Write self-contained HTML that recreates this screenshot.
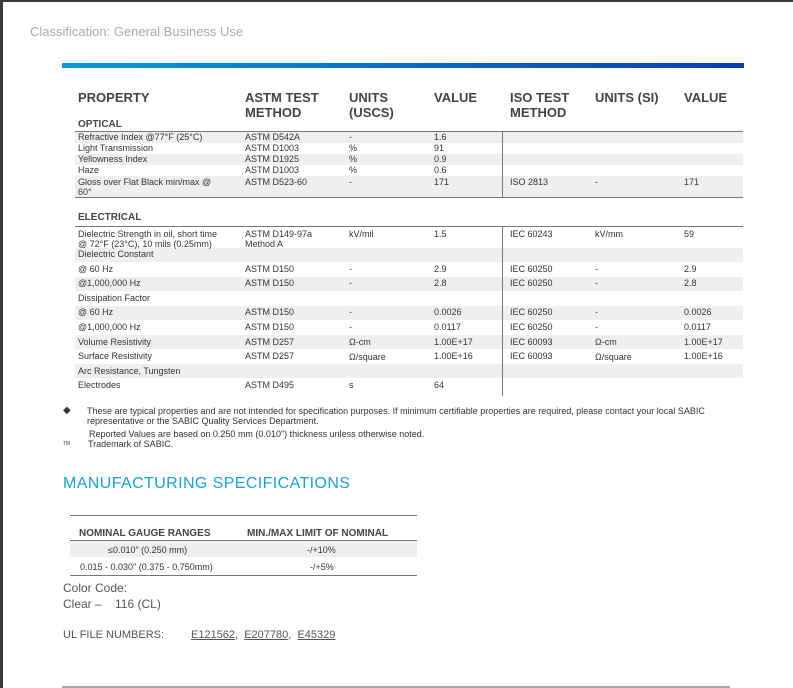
<!DOCTYPE html>
<html><head><meta charset="utf-8"><style>
body{margin:0;width:793px;height:688px;position:relative;overflow:hidden;background:#fff;font-family:"Liberation Sans",Arial,sans-serif;color:#333}
.a{position:absolute;white-space:nowrap}
.h{font-weight:bold;font-size:13px;color:#444;line-height:15px}
.t{font-size:9px;line-height:10px;color:#333}
.sh{position:absolute;background:#efefef;left:75px;width:668px}
.ln{position:absolute;background:#777;height:1px;left:75px;width:668px}
.dv{position:absolute;left:502px;width:1px;background:#777;z-index:2}
</style></head><body>
<div class="a" style="left:0;top:0;width:793px;height:2px;background:#3a3a3a"></div>
<div class="a" style="left:0;top:0;width:3px;height:688px;background:#3a3a3a"></div>
<div class="a" style="left:30px;top:24px;font-size:13px;color:#aaa">Classification: General Business Use</div>
<div class="a" style="left:62px;top:63px;width:682px;height:5px;background:linear-gradient(90deg,#0a9ad9,#0a3fb5)"></div>

<div class="a h" style="left:78px;top:90px">PROPERTY</div>
<div class="a h" style="left:245px;top:90px">ASTM TEST<br>METHOD</div>
<div class="a h" style="left:349px;top:90px">UNITS<br>(USCS)</div>
<div class="a h" style="left:434px;top:90px">VALUE</div>
<div class="a h" style="left:510px;top:90px">ISO TEST<br>METHOD</div>
<div class="a h" style="left:595px;top:90px">UNITS (SI)</div>
<div class="a h" style="left:684px;top:90px">VALUE</div>
<div class="a" style="left:78px;top:119px;font-size:10px;font-weight:bold;color:#444">OPTICAL</div>

<div class="sh" style="top:132px;height:11px"></div>
<div class="sh" style="top:154px;height:11px"></div>
<div class="sh" style="top:176px;height:21px"></div>
<div class="ln" style="top:131px"></div>
<div class="ln" style="top:197px"></div>
<div class="dv" style="top:131px;height:66px"></div>

<div class="a t" style="left:78px;top:132px">Refractive Index @77°F (25°C)</div><div class="a t" style="left:245px;top:132px">ASTM D542A</div><div class="a t" style="left:349px;top:132px">-</div><div class="a t" style="left:434px;top:132px">1.6</div>
<div class="a t" style="left:78px;top:143px">Light Transmission</div><div class="a t" style="left:245px;top:143px">ASTM D1003</div><div class="a t" style="left:349px;top:143px">%</div><div class="a t" style="left:434px;top:143px">91</div>
<div class="a t" style="left:78px;top:154px">Yellowness Index</div><div class="a t" style="left:245px;top:154px">ASTM D1925</div><div class="a t" style="left:349px;top:154px">%</div><div class="a t" style="left:434px;top:154px">0.9</div>
<div class="a t" style="left:78px;top:165px">Haze</div><div class="a t" style="left:245px;top:165px">ASTM D1003</div><div class="a t" style="left:349px;top:165px">%</div><div class="a t" style="left:434px;top:165px">0.6</div>
<div class="a t" style="left:78px;top:177px">Gloss over Flat Black min/max @<br>60°</div><div class="a t" style="left:245px;top:177px">ASTM D523-60</div><div class="a t" style="left:349px;top:177px">-</div><div class="a t" style="left:434px;top:177px">171</div><div class="a t" style="left:510px;top:177px">ISO 2813</div><div class="a t" style="left:595px;top:177px">-</div><div class="a t" style="left:684px;top:177px">171</div>

<div class="a" style="left:78px;top:212px;font-size:10px;font-weight:bold;color:#444">ELECTRICAL</div>
<div class="ln" style="top:226px"></div>
<div class="sh" style="top:248px;height:14px"></div>
<div class="sh" style="top:277px;height:14px"></div>
<div class="sh" style="top:306px;height:14px"></div>
<div class="sh" style="top:335px;height:14px"></div>
<div class="sh" style="top:364px;height:14px"></div>
<div class="dv" style="top:226px;height:170px"></div>

<div class="a t" style="left:78px;top:229px">Dielectric Strength in oil, short time<br>@ 72°F (23°C), 10 mils (0.25mm)</div><div class="a t" style="left:245px;top:229px">ASTM D149-97a<br>Method A</div><div class="a t" style="left:349px;top:229px">kV/mil</div><div class="a t" style="left:434px;top:229px">1.5</div><div class="a t" style="left:510px;top:229px">IEC 60243</div><div class="a t" style="left:595px;top:229px">kV/mm</div><div class="a t" style="left:684px;top:229px">59</div>
<div class="a t" style="left:78px;top:249px">Dielectric Constant</div>
<div class="a t" style="left:78px;top:264px">@ 60 Hz</div><div class="a t" style="left:245px;top:264px">ASTM D150</div><div class="a t" style="left:349px;top:264px">-</div><div class="a t" style="left:434px;top:264px">2.9</div><div class="a t" style="left:510px;top:264px">IEC 60250</div><div class="a t" style="left:595px;top:264px">-</div><div class="a t" style="left:684px;top:264px">2.9</div>
<div class="a t" style="left:78px;top:278px">@1,000,000 Hz</div><div class="a t" style="left:245px;top:278px">ASTM D150</div><div class="a t" style="left:349px;top:278px">-</div><div class="a t" style="left:434px;top:278px">2.8</div><div class="a t" style="left:510px;top:278px">IEC 60250</div><div class="a t" style="left:595px;top:278px">-</div><div class="a t" style="left:684px;top:278px">2.8</div>
<div class="a t" style="left:78px;top:293px">Dissipation Factor</div>
<div class="a t" style="left:78px;top:307px">@ 60 Hz</div><div class="a t" style="left:245px;top:307px">ASTM D150</div><div class="a t" style="left:349px;top:307px">-</div><div class="a t" style="left:434px;top:307px">0.0026</div><div class="a t" style="left:510px;top:307px">IEC 60250</div><div class="a t" style="left:595px;top:307px">-</div><div class="a t" style="left:684px;top:307px">0.0026</div>
<div class="a t" style="left:78px;top:322px">@1,000,000 Hz</div><div class="a t" style="left:245px;top:322px">ASTM D150</div><div class="a t" style="left:349px;top:322px">-</div><div class="a t" style="left:434px;top:322px">0.0117</div><div class="a t" style="left:510px;top:322px">IEC 60250</div><div class="a t" style="left:595px;top:322px">-</div><div class="a t" style="left:684px;top:322px">0.0117</div>
<div class="a t" style="left:78px;top:337px">Volume Resistivity</div><div class="a t" style="left:245px;top:337px">ASTM D257</div><div class="a t" style="left:349px;top:337px">Ω-cm</div><div class="a t" style="left:434px;top:337px">1.00E+17</div><div class="a t" style="left:510px;top:337px">IEC 60093</div><div class="a t" style="left:595px;top:337px">Ω-cm</div><div class="a t" style="left:684px;top:337px">1.00E+17</div>
<div class="a t" style="left:78px;top:351px">Surface Resistivity</div><div class="a t" style="left:245px;top:351px">ASTM D257</div><div class="a t" style="left:349px;top:352px">Ω/square</div><div class="a t" style="left:434px;top:351px">1.00E+16</div><div class="a t" style="left:510px;top:351px">IEC 60093</div><div class="a t" style="left:595px;top:352px">Ω/square</div><div class="a t" style="left:684px;top:351px">1.00E+16</div>
<div class="a t" style="left:78px;top:366px">Arc Resistance, Tungsten</div>
<div class="a t" style="left:78px;top:380px">Electrodes</div><div class="a t" style="left:245px;top:380px">ASTM D495</div><div class="a t" style="left:349px;top:380px">s</div><div class="a t" style="left:434px;top:380px">64</div>

<div class="a t" style="left:63px;top:406px;font-size:10px">◆</div>
<div class="a t" style="left:87px;top:406px">These are typical properties and are not intended for specification purposes. If minimum certifiable properties are required, please contact your local SABIC<br>representative or the SABIC Quality Services Department.</div>
<div class="a t" style="left:89px;top:429px">Reported Values are based on 0.250 mm (0.010") thickness unless otherwise noted.</div>
<div class="a" style="left:63px;top:441px;font-size:5px;color:#333">TM</div>
<div class="a t" style="left:88px;top:439px">Trademark of SABIC.</div>

<div class="a" style="left:63px;top:475px;font-size:16px;color:#1ba0d8;letter-spacing:0.4px">MANUFACTURING SPECIFICATIONS</div>

<div class="a" style="left:70px;top:515px;width:347px;height:1px;background:#777"></div>
<div class="a" style="left:79px;top:528px;font-size:10px;font-weight:bold;color:#444">NOMINAL GAUGE RANGES</div>
<div class="a" style="left:247px;top:528px;font-size:10px;font-weight:bold;color:#444">MIN./MAX LIMIT OF NOMINAL</div>
<div class="a" style="left:70px;top:540px;width:347px;height:1px;background:#777"></div>
<div class="a" style="left:70px;top:541px;width:347px;height:16px;background:#efefef"></div>
<div class="a t" style="left:108px;top:545px">≤0.010" (0.250 mm)</div>
<div class="a t" style="left:307px;top:545px">-/+10%</div>
<div class="a t" style="left:80px;top:562px">0.015 - 0.030" (0.375 - 0.750mm)</div>
<div class="a t" style="left:310px;top:562px">-/+5%</div>
<div class="a" style="left:70px;top:575px;width:347px;height:1px;background:#777"></div>

<div class="a" style="left:63px;top:581px;font-size:12px;color:#555">Color Code:</div>
<div class="a" style="left:63px;top:597px;font-size:12px;color:#555">Clear –&nbsp;&nbsp;&nbsp; 116 (CL)</div>
<div class="a" style="left:63px;top:629px;font-size:11px;color:#555">UL FILE NUMBERS:</div>
<div class="a" style="left:191px;top:629px;font-size:11px;color:#555"><u>E121562</u>,&nbsp; <u>E207780</u>,&nbsp; <u>E45329</u></div>

<div class="a" style="left:62px;top:686px;width:668px;height:2px;background:#aaa"></div>
</body></html>
